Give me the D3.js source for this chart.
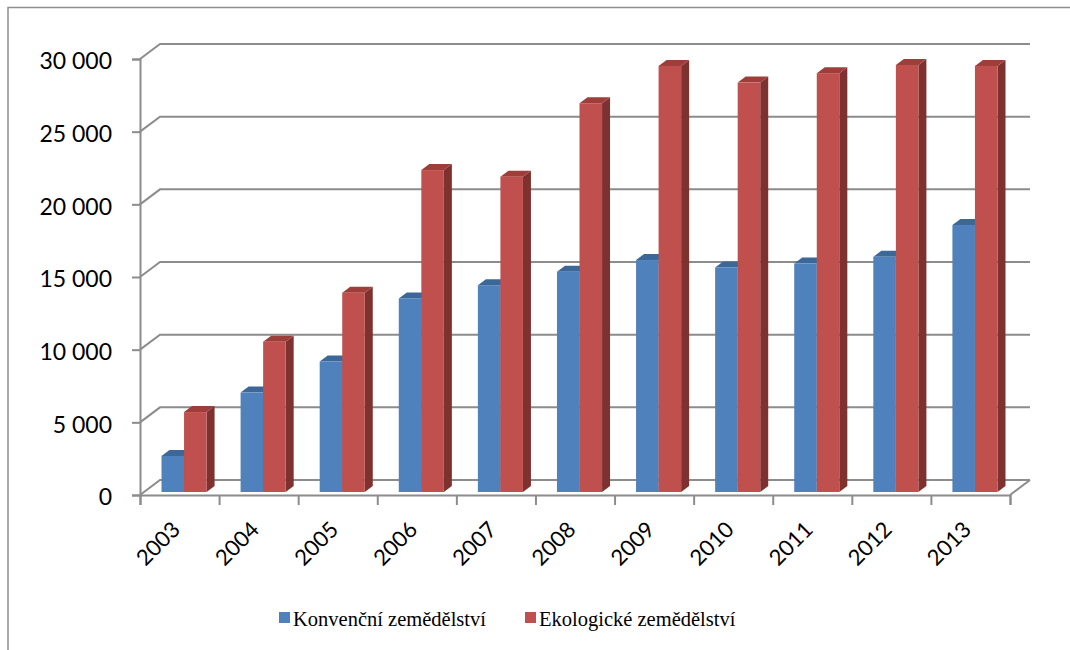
<!DOCTYPE html>
<html>
<head>
<meta charset="utf-8">
<script src="https://cdn.jsdelivr.net/npm/d3@7"></script>
<style>
  body { margin: 0; background: #fff; }
  svg { display: block; }
</style>
</head>
<body>
<div id="chart"></div>
<script>
// data
const years = ["2003","2004","2005","2006","2007","2008","2009","2010","2011","2012","2013"];
const seriesNames = ["Konvenční zemědělství", "Ekologické zemědělství"];
const konvencni = [2480, 6840, 8980, 13320, 14230, 15160, 15960, 15450, 15720, 16180, 18370];
const ekologicke = [5500, 10340, 13710, 22150, 21700, 26750, 29320, 28170, 28820, 29380, 29320];
const yTicks = [0, 5000, 10000, 15000, 20000, 25000, 30000];

const width = 1070, height = 650;
const plotLeft = 140, plotRight = 1010, plotBottom = 495, plotTop = 59;
// 3d depth of the whole plot and of one bar
const depth = { x: 20, y: -15 };
const barFront = { x: 4.5, y: -3 };
const barDepth = { x: 8, y: -6 };

const colors = {
  front: ["#4f81bd", "#c0504d"],
  top:   ["#3c6899", "#9d3e3b"],
  side:  ["#345b88", "#7d3230"]
};
const gridColor = "#8c8c8c";

const svg = d3.select("#chart").append("svg")
  .attr("width", width)
  .attr("height", height);

// outer frame (top + left visible)
svg.append("path")
  .attr("d", `M8,650 L8,7.5 L1070,7.5`)
  .attr("fill", "none")
  .attr("stroke", "#8f8f8f")
  .attr("stroke-width", 1.5);

const x = d3.scaleBand().domain(years).range([plotLeft, plotRight])
  .paddingInner(0.43).paddingOuter(0.215);
const xs = d3.scaleBand().domain([0, 1]).range([0, x.bandwidth()]);
const y = d3.scaleLinear().domain([0, 30000]).range([plotBottom, plotTop]);

const fmt = d3.formatLocale({ decimal: ",", thousands: "\u00a0", grouping: [3] }).format(",d");

// gridlines on back wall + side wall
const grid = svg.append("g");
yTicks.forEach(t => {
  const yy = y(t);
  grid.append("path")
    .attr("d", `M${plotLeft},${yy} L${plotLeft + depth.x},${yy + depth.y} L${plotRight + depth.x},${yy + depth.y}`)
    .attr("fill", "none")
    .attr("stroke", gridColor)
    .attr("stroke-width", 2);
});
// floor right edge
grid.append("path")
  .attr("d", `M${plotRight},${plotBottom} L${plotRight + depth.x},${plotBottom + depth.y}`)
  .attr("fill", "none")
  .attr("stroke", gridColor)
  .attr("stroke-width", 2);

// y axis
const yAxis = svg.append("g")
  .attr("transform", `translate(${plotLeft},0)`)
  .call(d3.axisLeft(y).tickValues(yTicks).tickFormat(fmt).tickSize(8).tickPadding(20));
yAxis.select(".domain").attr("stroke", gridColor).attr("stroke-width", 2);
yAxis.selectAll(".tick line").attr("stroke", gridColor).attr("stroke-width", 2);
yAxis.selectAll(".tick text")
  .attr("font-family", "Lato, 'Open Sans', sans-serif")
  .attr("font-size", 23)
  .attr("fill", "#000")
  .attr("dy", "0.42em");

// x axis
const xAxisScale = d3.scaleLinear().domain([0, years.length]).range([plotLeft, plotRight]);
const xAxis = svg.append("g")
  .attr("transform", `translate(0,${plotBottom})`)
  .call(d3.axisBottom(xAxisScale).tickValues(d3.range(years.length + 1)).tickSize(10).tickFormat(""));
xAxis.select(".domain").attr("stroke", gridColor).attr("stroke-width", 2);
xAxis.selectAll(".tick line").attr("stroke", gridColor).attr("stroke-width", 2);

svg.append("g").selectAll("text")
  .data(years)
  .join("text")
  .attr("transform", d => `translate(${x(d) + x.bandwidth() / 2 + 2},531) rotate(-45)`)
  .attr("text-anchor", "end")
  .attr("font-family", "Lato, 'Open Sans', sans-serif")
  .attr("font-size", 22)
  .attr("fill", "#000")
  .text(d => d);

// bars
const rows = [];
years.forEach((yr, i) => {
  rows.push({ year: yr, s: 0, v: konvencni[i] });
  rows.push({ year: yr, s: 1, v: ekologicke[i] });
});

const bars = svg.append("g").selectAll("g")
  .data(rows)
  .join("g");

bars.each(function (d) {
  const g = d3.select(this);
  const x0 = x(d.year) + xs(d.s) + barFront.x;
  const w = xs.bandwidth();
  const y1 = plotBottom + barFront.y;
  const y0 = y(d.v) + barFront.y;
  // side
  g.append("path")
    .attr("d", `M${x0 + w},${y1} L${x0 + w + barDepth.x},${y1 + barDepth.y} L${x0 + w + barDepth.x},${y0 + barDepth.y} L${x0 + w},${y0} Z`)
    .attr("fill", colors.side[d.s]);
  // top
  g.append("path")
    .attr("d", `M${x0},${y0} L${x0 + barDepth.x},${y0 + barDepth.y} L${x0 + w + barDepth.x},${y0 + barDepth.y} L${x0 + w},${y0} Z`)
    .attr("fill", colors.top[d.s]);
  // front
  g.append("rect")
    .attr("x", x0)
    .attr("y", y0)
    .attr("width", w)
    .attr("height", y1 - y0)
    .attr("fill", colors.front[d.s]);
});

// legend
const legendX = [279, 525];
const legend = svg.append("g").selectAll("g")
  .data(seriesNames)
  .join("g")
  .attr("transform", (d, i) => `translate(${legendX[i]},0)`);
legend.append("rect")
  .attr("x", 0).attr("y", 612)
  .attr("width", 11).attr("height", 11)
  .attr("fill", (d, i) => colors.front[i]);
legend.append("text")
  .attr("x", 14).attr("y", 626)
  .attr("font-family", "'Liberation Serif', 'Times New Roman', serif")
  .attr("font-size", 20.5)
  .attr("fill", "#000")
  .text(d => d);
</script>
</body>
</html>
